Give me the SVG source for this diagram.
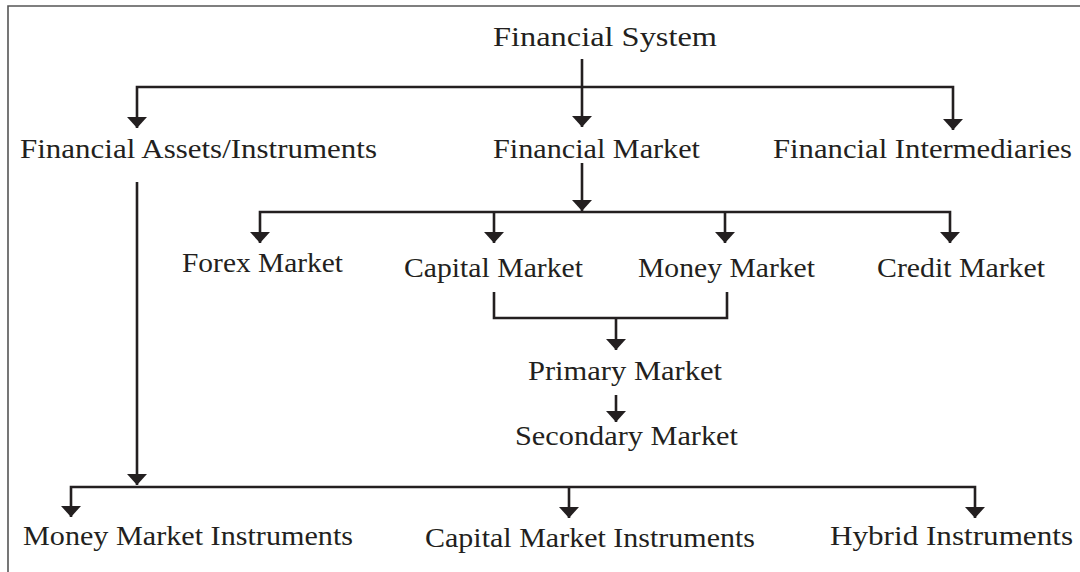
<svg xmlns="http://www.w3.org/2000/svg" width="1080" height="572" viewBox="0 0 1080 572">
<defs>
<style>
.t{font-family:"Liberation Serif","Times New Roman",serif;font-size:28px;fill:#231f20}
.c{fill:none;stroke:#231f20;stroke-width:2.6}
.b{fill:none;stroke:#555;stroke-width:1.6}
</style>
<marker id="ah" viewBox="0 0 20 11" refX="10" refY="11" markerWidth="20" markerHeight="11" markerUnits="userSpaceOnUse" orient="auto-start-reverse">
<path d="M0,0 L20,0 L10,11 Z" fill="#231f20"/>
</marker>
</defs>
<rect width="1080" height="572" fill="#fff"/>
<path class="b" d="M8,572 V6 H1080"/>
<g id="connectors">
<path class="c" d="M582,59 V87"/>
<path class="c" d="M137,128 V87 H953 V130"/>
<path class="c" d="M582,87 V127"/>
<path class="c" d="M582,163 V211"/>
<path class="c" d="M260,243 V212 H950 V243"/>
<path class="c" d="M494,212 V243"/>
<path class="c" d="M725,212 V243"/>
<path class="c" d="M494,292 V318 H727 V292"/>
<path class="c" d="M616,318 V350"/>
<path class="c" d="M616,395 V422"/>
<path class="c" d="M137,182 V485"/>
<path class="c" d="M71,517 V487 H975 V518"/>
<path class="c" d="M569,487 V518"/>
<g fill="#231f20">
<path d="M572,116 L592,116 L582,127 Z"/>
<path d="M127,117 L147,117 L137,128 Z"/>
<path d="M943,119 L963,119 L953,130 Z"/>
<path d="M572,200 L592,200 L582,211 Z"/>
<path d="M250,232 L270,232 L260,243 Z"/>
<path d="M484,232 L504,232 L494,243 Z"/>
<path d="M715,232 L735,232 L725,243 Z"/>
<path d="M940,232 L960,232 L950,243 Z"/>
<path d="M606,339 L626,339 L616,350 Z"/>
<path d="M606,411 L626,411 L616,422 Z"/>
<path d="M127,474 L147,474 L137,485 Z"/>
<path d="M61,506 L81,506 L71,517 Z"/>
<path d="M559,507 L579,507 L569,518 Z"/>
<path d="M965,507 L985,507 L975,518 Z"/>
</g>
</g>
<g id="n-system"><text class="t" x="493" y="46" textLength="224" lengthAdjust="spacingAndGlyphs">Financial System</text></g>
<g id="n-assets"><text class="t" x="20" y="158" textLength="357" lengthAdjust="spacingAndGlyphs">Financial Assets/Instruments</text></g>
<g id="n-market"><text class="t" x="493" y="158" textLength="207" lengthAdjust="spacingAndGlyphs">Financial Market</text></g>
<g id="n-intermediaries"><text class="t" x="773" y="158" textLength="299" lengthAdjust="spacingAndGlyphs">Financial Intermediaries</text></g>
<g id="n-forex"><text class="t" x="182" y="272" textLength="161" lengthAdjust="spacingAndGlyphs">Forex Market</text></g>
<g id="n-capital"><text class="t" x="404" y="277" textLength="179" lengthAdjust="spacingAndGlyphs">Capital Market</text></g>
<g id="n-money"><text class="t" x="638" y="277" textLength="177" lengthAdjust="spacingAndGlyphs">Money Market</text></g>
<g id="n-credit"><text class="t" x="877" y="277" textLength="168" lengthAdjust="spacingAndGlyphs">Credit Market</text></g>
<g id="n-primary"><text class="t" x="528" y="380" textLength="194" lengthAdjust="spacingAndGlyphs">Primary Market</text></g>
<g id="n-secondary"><text class="t" x="515" y="445" textLength="223" lengthAdjust="spacingAndGlyphs">Secondary Market</text></g>
<g id="n-mmi"><text class="t" x="23" y="545" textLength="330" lengthAdjust="spacingAndGlyphs">Money Market Instruments</text></g>
<g id="n-cmi"><text class="t" x="425" y="547" textLength="330" lengthAdjust="spacingAndGlyphs">Capital Market Instruments</text></g>
<g id="n-hybrid"><text class="t" x="830" y="545" textLength="243" lengthAdjust="spacingAndGlyphs">Hybrid Instruments</text></g>
</svg>
